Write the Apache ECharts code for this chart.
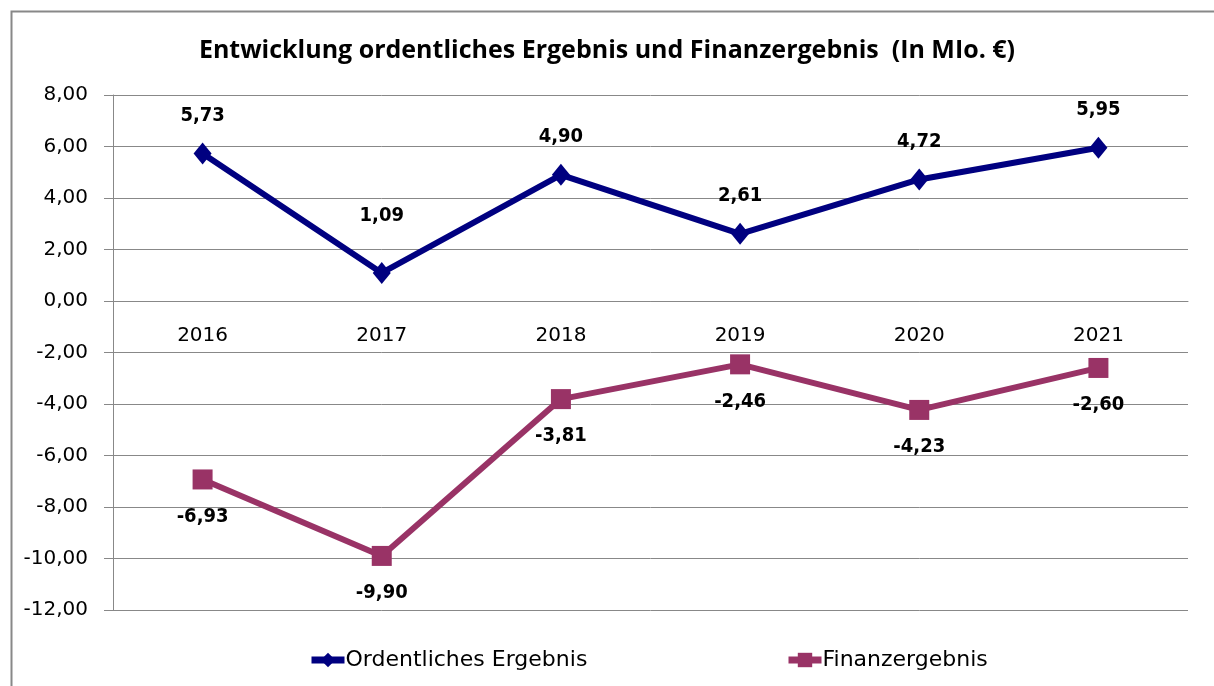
<!DOCTYPE html>
<html><head><meta charset="utf-8">
<script src="https://cdn.jsdelivr.net/npm/echarts@6/dist/echarts.min.js"></script>
<style>html,body{margin:0;padding:0;background:#fff}#c{width:1214px;height:686px}</style>
</head><body><div id="c"></div>
<script>
const categories = ['2016','2017','2018','2019','2020','2021'];
const ordentlich = [5.73, 1.09, 4.90, 2.61, 4.72, 5.95];
const finanz = [-6.93, -9.90, -3.81, -2.46, -4.23, -2.60];
const yTicks = {min: -12, max: 8, interval: 2};
const fmt = v => v.toFixed(2).replace('.', ',');

const ordData = ordentlich.map((v, i) => i === 1 ? {value: v, label: {distance: 36}} : v);

const chart = echarts.init(document.getElementById('c'), null, {renderer: 'canvas'});
chart.setOption({
  animation: false,
  backgroundColor: '#fff',
  graphic: [{
    type: 'rect', left: 9, top: 9, shape: {x: 0, y: 0, width: 1220, height: 700},
    style: {fill: 'none', stroke: '#888', lineWidth: 2}
  }],
  title: {
    text: 'Entwicklung ordentliches Ergebnis und Finanzergebnis  (In MIo. €)',
    left: 'center', top: 33,
    textStyle: {fontFamily: 'Open Sans', fontWeight: 'bold', fontSize: 25, color: '#000'}
  },
  legend: [{
    data: [{name: 'Ordentliches Ergebnis', lineStyle: {width: 7}}], left: 303, top: 644,
    itemWidth: 33, itemHeight: 18, itemGap: 2,
    textStyle: {fontFamily: 'DejaVu Sans', fontSize: 22, color: '#000', padding: [0,0,0,-4]}
  }, {
    data: [{name: 'Finanzergebnis', lineStyle: {width: 7}}], left: 780, top: 644,
    itemWidth: 33, itemHeight: 18,
    textStyle: {fontFamily: 'DejaVu Sans', fontSize: 22, color: '#000', padding: [0,0,0,-4]}
  }],
  grid: {left: 113, right: 26, top: 95, bottom: 76},
  xAxis: {
    type: 'category', data: categories, boundaryGap: true,
    offset: -309,
    axisLine: {show: true, onZero: false, lineStyle: {color: '#888', width: 1}},
    axisTick: {show: false},
    axisLabel: {margin: 25, fontFamily: 'DejaVu Sans', fontSize: 20, color: '#000'}
  },
  yAxis: {
    type: 'value', min: yTicks.min, max: yTicks.max, interval: yTicks.interval,
    axisLine: {show: true, lineStyle: {color: '#888'}},
    axisTick: {show: true, length: 9, lineStyle: {color: '#888'}},
    axisLabel: {margin: 25, formatter: v => fmt(v), fontFamily: 'DejaVu Sans', fontSize: 20, color: '#000'},
    splitLine: {show: true, lineStyle: {color: '#888', width: 1}}
  },
  series: [{
    name: 'Ordentliches Ergebnis', type: 'line', data: ordData,
    color: '#000080',
    lineStyle: {width: 6, color: '#000080'},
    symbol: 'diamond', symbolSize: [18, 22],
    itemStyle: {color: '#000080'},
    label: {show: true, position: 'top', distance: 17, formatter: p => fmt(p.value),
      fontFamily: 'DejaVu Sans Condensed', fontWeight: 'bold', fontSize: 20, color: '#000'}
  }, {
    name: 'Finanzergebnis', type: 'line', data: finanz,
    color: '#993366',
    lineStyle: {width: 6, color: '#993366'},
    symbol: 'rect', symbolSize: 20,
    itemStyle: {color: '#993366'},
    label: {show: true, position: 'bottom', distance: 17, formatter: p => fmt(p.value),
      fontFamily: 'DejaVu Sans Condensed', fontWeight: 'bold', fontSize: 20, color: '#000'}
  }]
});
</script></body></html>
